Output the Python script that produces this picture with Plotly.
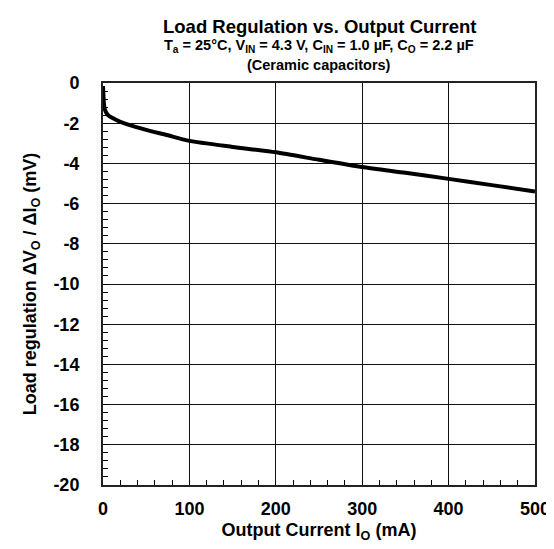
import plotly.graph_objects as go

# Data
current_mA = [0, 0.5, 1, 2, 4, 6, 10, 20, 30, 50, 75, 100, 150, 200, 250, 300, 350, 400, 450, 500]
load_reg_mV = [-0.15, -0.6, -1.0, -1.3, -1.5, -1.6, -1.72, -1.93, -2.08, -2.33, -2.6, -2.88,
               -3.18, -3.45, -3.82, -4.18, -4.47, -4.77, -5.08, -5.4]

x_ticks = [0, 100, 200, 300, 400, 500]
y_ticks = [0, -2, -4, -6, -8, -10, -12, -14, -16, -18, -20]

title_main = "Load Regulation vs. Output Current"
title_sub1 = "T<sub>a</sub> = 25°C, V<sub>IN</sub> = 4.3 V, C<sub>IN</sub> = 1.0 µF, C<sub>O</sub> = 2.2 µF"
title_sub2 = "(Ceramic capacitors)"
x_title = "Output Current I<sub>O</sub> (mA)"
y_title = "Load regulation ΔV<sub>O</sub> / ΔI<sub>O</sub> (mV)"

FONT = "Liberation Sans, Arial, sans-serif"

fig = go.Figure()
fig.add_trace(go.Scatter(x=current_mA, y=load_reg_mV, mode="lines",
                         line=dict(color="black", width=4, shape="spline", smoothing=0.6),
                         showlegend=False, hoverinfo="skip"))

fig.update_layout(
    width=554, height=549,
    margin=dict(l=95, r=18, t=75, b=72),
    paper_bgcolor="white", plot_bgcolor="white",
    font=dict(family=FONT, color="black", size=18, weight="bold"),
    showlegend=False,
)

fig.update_xaxes(
    range=[0, 500], tickvals=x_ticks, ticktext=[str(v) for v in x_ticks],
    showgrid=True, gridcolor="#111", gridwidth=1,
    showline=True, linecolor="#222", linewidth=2, mirror=True,
    ticks="inside", ticklen=0, tickcolor="black",
    ticklabelstandoff=6,
    minor=dict(dtick=20, ticks="inside", ticklen=5, tickcolor="black", showgrid=False),
    tickfont=dict(size=18, family=FONT, weight="bold"),
    title=dict(text=x_title, font=dict(size=18, family=FONT, weight="bold"), standoff=6),
    zeroline=False, fixedrange=True,
)
fig.update_yaxes(
    range=[-20, 0], tickvals=y_ticks, ticktext=[str(v) for v in y_ticks],
    showgrid=True, gridcolor="#111", gridwidth=1,
    showline=True, linecolor="#222", linewidth=2, mirror=True,
    ticks="inside", ticklen=0, tickcolor="black",
    ticklabelstandoff=18,
    minor=dict(dtick=0.4, ticks="inside", ticklen=5, tickcolor="black", showgrid=False),
    tickfont=dict(size=18, family=FONT, weight="bold"),
    title=dict(text=y_title, font=dict(size=18, family=FONT, weight="bold"), standoff=12),
    zeroline=False, fixedrange=True,
)

fig.add_annotation(text=title_main, xref="paper", yref="paper", x=0.5, y=1.0, yshift=57,
                   showarrow=False, font=dict(size=18.5, family=FONT, weight="bold"), yanchor="middle")
fig.add_annotation(text=title_sub1, xref="paper", yref="paper", x=0.5, y=1.0, yshift=37,
                   showarrow=False, font=dict(size=14.5, family=FONT, weight="bold"), yanchor="middle")
fig.add_annotation(text=title_sub2, xref="paper", yref="paper", x=0.5, y=1.0, yshift=18,
                   showarrow=False, font=dict(size=14.5, family=FONT, weight="bold"), yanchor="middle")

fig.write_html("out.html")
